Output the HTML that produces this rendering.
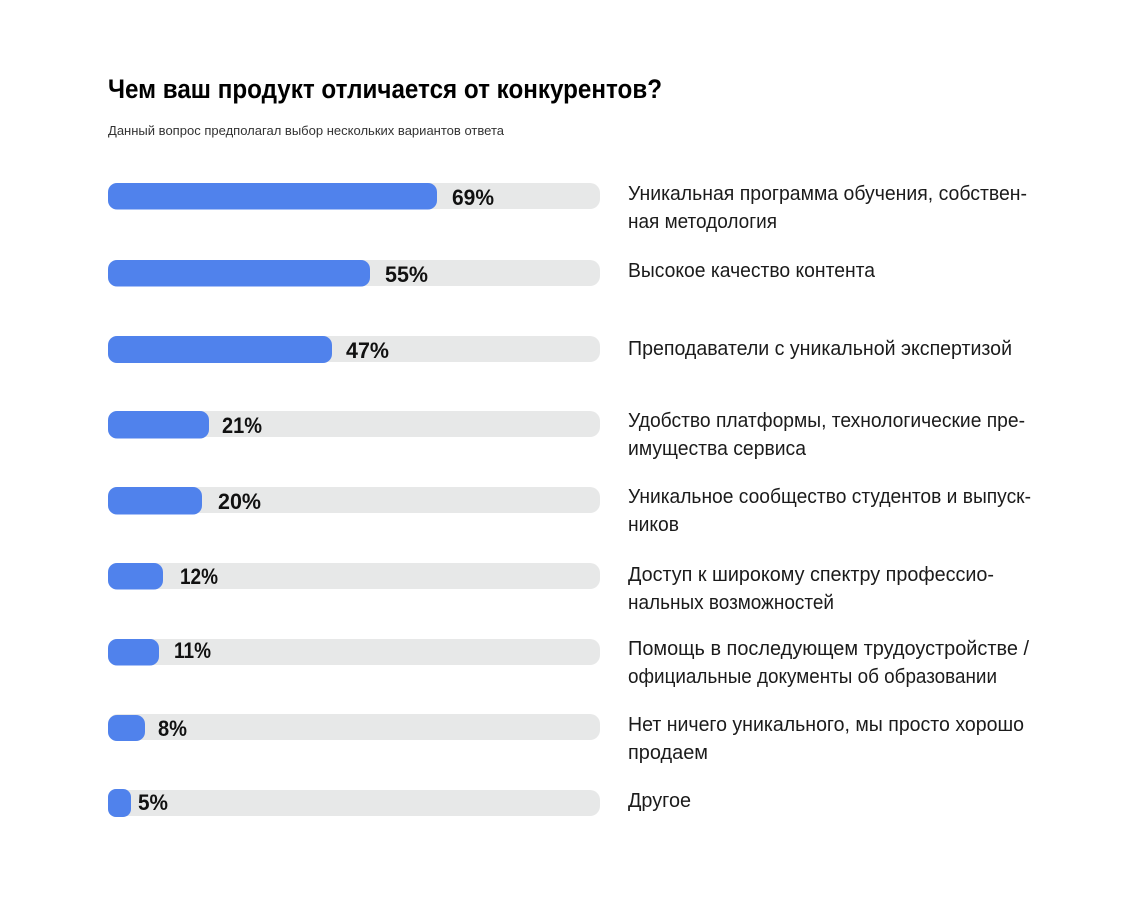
<!DOCTYPE html>
<html><head><meta charset="utf-8"><style>
html,body{margin:0;padding:0;background:#fff;}
svg{display:block;}
text{font-family:"Liberation Sans","DejaVu Sans",sans-serif;}
.l{font-size:20px;fill:#1b1b1b;}
.p{font-size:22px;font-weight:bold;fill:#111;}
</style></head><body>
<svg width="1140" height="901" viewBox="0 0 1140 901" xmlns="http://www.w3.org/2000/svg">
<rect width="1140" height="901" fill="#fff"/>
<text x="108" y="98" font-size="27" font-weight="bold" fill="#000" textLength="554" lengthAdjust="spacingAndGlyphs">Чем ваш продукт отличается от конкурентов?</text>
<text x="108" y="135" font-size="13" fill="#333" textLength="396" lengthAdjust="spacingAndGlyphs">Данный вопрос предполагал выбор нескольких вариантов ответа</text>

<g fill="#e7e8e8">
<rect x="108" y="183" width="492" height="26" rx="10"/>
<rect x="108" y="260" width="492" height="26" rx="10"/>
<rect x="108" y="336" width="492" height="26" rx="10"/>
<rect x="108" y="411" width="492" height="26" rx="10"/>
<rect x="108" y="487" width="492" height="26" rx="10"/>
<rect x="108" y="563" width="492" height="26" rx="10"/>
<rect x="108" y="639" width="492" height="26" rx="10"/>
<rect x="108" y="714" width="492" height="26" rx="10"/>
<rect x="108" y="790" width="492" height="26" rx="10"/>
</g>
<g fill="#5082ec">
<rect x="108" y="183" width="329" height="26.5" rx="9"/>
<rect x="108" y="260" width="262" height="26.5" rx="9"/>
<rect x="108" y="336" width="224" height="27" rx="9"/>
<rect x="108" y="411" width="101" height="27.5" rx="9"/>
<rect x="108" y="487" width="94" height="27.5" rx="9"/>
<rect x="108" y="563" width="55" height="26.5" rx="9"/>
<rect x="108" y="639" width="51" height="26.5" rx="9"/>
<rect x="108" y="715" width="37" height="26" rx="9"/>
<rect x="108" y="789" width="23" height="28" rx="8"/>
</g>

<text class="p" x="452" y="205" textLength="42" lengthAdjust="spacingAndGlyphs">69%</text>
<text class="p" x="385" y="282" textLength="43" lengthAdjust="spacingAndGlyphs">55%</text>
<text class="p" x="346" y="358" textLength="43" lengthAdjust="spacingAndGlyphs">47%</text>
<text class="p" x="222" y="433" textLength="40" lengthAdjust="spacingAndGlyphs">21%</text>
<text class="p" x="218" y="509" textLength="43" lengthAdjust="spacingAndGlyphs">20%</text>
<text class="p" x="180" y="584" textLength="38" lengthAdjust="spacingAndGlyphs">12%</text>
<text class="p" x="174" y="658" textLength="37" lengthAdjust="spacingAndGlyphs">11%</text>
<text class="p" x="158" y="736" textLength="29" lengthAdjust="spacingAndGlyphs">8%</text>
<text class="p" x="138" y="810" textLength="30" lengthAdjust="spacingAndGlyphs">5%</text>

<text class="l" x="628" y="200" textLength="399" lengthAdjust="spacingAndGlyphs">Уникальная программа обучения, собствен-</text>
<text class="l" x="628" y="228" textLength="149" lengthAdjust="spacingAndGlyphs">ная методология</text>
<text class="l" x="628" y="277" textLength="247" lengthAdjust="spacingAndGlyphs">Высокое качество контента</text>
<text class="l" x="628" y="355" textLength="384" lengthAdjust="spacingAndGlyphs">Преподаватели с уникальной экспертизой</text>
<text class="l" x="628" y="427" textLength="397" lengthAdjust="spacingAndGlyphs">Удобство платформы, технологические пре-</text>
<text class="l" x="628" y="455" textLength="178" lengthAdjust="spacingAndGlyphs">имущества сервиса</text>
<text class="l" x="628" y="503" textLength="403" lengthAdjust="spacingAndGlyphs">Уникальное сообщество студентов и выпуск-</text>
<text class="l" x="628" y="531" textLength="51" lengthAdjust="spacingAndGlyphs">ников</text>
<text class="l" x="628" y="581" textLength="366" lengthAdjust="spacingAndGlyphs">Доступ к широкому спектру профессио-</text>
<text class="l" x="628" y="609" textLength="206" lengthAdjust="spacingAndGlyphs">нальных возможностей</text>
<text class="l" x="628" y="655" textLength="401" lengthAdjust="spacingAndGlyphs">Помощь в последующем трудоустройстве /</text>
<text class="l" x="628" y="683" textLength="369" lengthAdjust="spacingAndGlyphs">официальные документы об образовании</text>
<text class="l" x="628" y="731" textLength="396" lengthAdjust="spacingAndGlyphs">Нет ничего уникального, мы просто хорошо</text>
<text class="l" x="628" y="759" textLength="80" lengthAdjust="spacingAndGlyphs">продаем</text>
<text class="l" x="628" y="807" textLength="63" lengthAdjust="spacingAndGlyphs">Другое</text>
</svg>
</body></html>
